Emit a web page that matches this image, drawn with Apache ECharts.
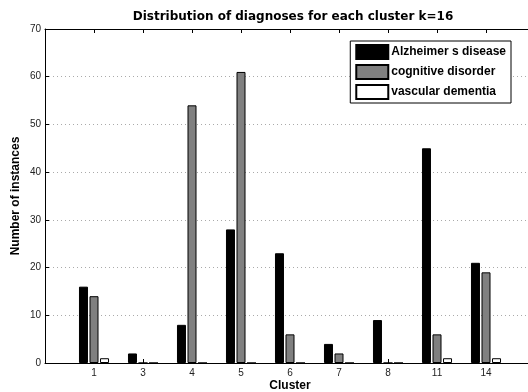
<!DOCTYPE html>
<html>
<head>
<meta charset="utf-8">
<script src="https://cdn.jsdelivr.net/npm/echarts@6/dist/echarts.min.js"></script>
<style>
  html, body { margin: 0; padding: 0; background: #fff; }
  #chart { width: 528px; height: 392px; }
</style>
</head>
<body>
<div id="chart"></div>
<script>
// Cluster ids, padded with empty slots so the axis spans 0..10 like a grouped bar plot
const clusters = ['1', '3', '4', '5', '6', '7', '8', '11', '14'];
const alzheimer = [16, 2, 8, 28, 23, 4, 9, 45, 21];
const cognitive = [14, 0, 54, 61, 6, 2, 0, 6, 19];
const vascular = [1, 0, 0, 0, 0, 0, 0, 1, 1];
const yTicks = [0, 10, 20, 30, 40, 50, 60, 70];

const axisCats = [''].concat(clusters, ['']);
const pad = arr => [null].concat(arr, [null]);

const font = 'Liberation Sans, Arial, Helvetica, sans-serif';
const wideFont = 'DejaVu Sans, Liberation Sans, sans-serif';
const chart = echarts.init(document.getElementById('chart'), null, { renderer: 'canvas' });

const barStyle = color => ({ color: color, borderColor: '#000', borderWidth: 1 });

chart.setOption({
  animation: false,
  backgroundColor: '#fff',
  title: {
    text: 'Distribution of diagnoses for each cluster k=16',
    left: 288, top: 6, textAlign: 'center',
    textStyle: { fontFamily: wideFont, fontSize: 12, fontWeight: 'bold', color: '#000' }
  },
  legend: {
    orient: 'vertical',
    right: 17, top: 41,
    itemWidth: 32, itemHeight: 14, itemGap: 4,
    padding: [3, 5, 3, 5],
    borderColor: '#000', borderWidth: 1, backgroundColor: '#fff',
    icon: 'rect',
    textStyle: { fontFamily: font, fontSize: 12, fontWeight: 'bold', color: '#000', padding: [0, 0, 0, -2] },
    data: ['Alzheimer s disease', 'cognitive disorder', 'vascular dementia']
  },
  grid: { left: 45, top: 29, width: 490, height: 334, containLabel: false, outerBoundsMode: 'none' },
  xAxis: [{
    type: 'category', data: axisCats, boundaryGap: false, position: 'bottom',
    name: 'Cluster', nameLocation: 'middle', nameGap: 17, nameMoveOverlap: false,
    nameTextStyle: { fontFamily: font, fontSize: 12, fontWeight: 'bold', color: '#000' },
    axisLine: { lineStyle: { color: '#000', width: 1 } },
    axisTick: { inside: true, length: 4, lineStyle: { color: '#000' } },
    axisLabel: { fontFamily: font, fontSize: 10, color: '#222', margin: 5, interval: 0 },
    splitLine: { show: false }
  }, {
    type: 'category', data: axisCats, boundaryGap: false, position: 'top',
    axisLine: { lineStyle: { color: '#000', width: 1 } },
    axisTick: { inside: true, length: 4, lineStyle: { color: '#000' } },
    axisLabel: { show: false },
    splitLine: { show: false }
  }],
  yAxis: {
    type: 'value', min: yTicks[0], max: yTicks[yTicks.length - 1], interval: 10,
    name: 'Number of instances', nameLocation: 'middle', nameGap: 23, nameMoveOverlap: false,
    nameTextStyle: { fontFamily: font, fontSize: 12, fontWeight: 'bold', color: '#000' },
    axisLine: { show: true, lineStyle: { color: '#000', width: 1 } },
    axisTick: { show: true, inside: true, length: 4, lineStyle: { color: '#000' } },
    axisLabel: { fontFamily: font, fontSize: 10, color: '#222', margin: 4 },
    splitLine: { show: true, lineStyle: { color: '#aaa', type: [1, 3], width: 1 } }
  },
  series: [
    { name: 'Alzheimer s disease', type: 'bar', data: pad(alzheimer), barWidth: 9, barGap: '17%', itemStyle: barStyle('#000') },
    { name: 'cognitive disorder', type: 'bar', data: pad(cognitive), barWidth: 9, barGap: '17%', itemStyle: barStyle('#808080') },
    { name: 'vascular dementia', type: 'bar', data: pad(vascular), barWidth: 9, barGap: '17%', itemStyle: barStyle('#fff') }
  ]
});
</script>
</body>
</html>
